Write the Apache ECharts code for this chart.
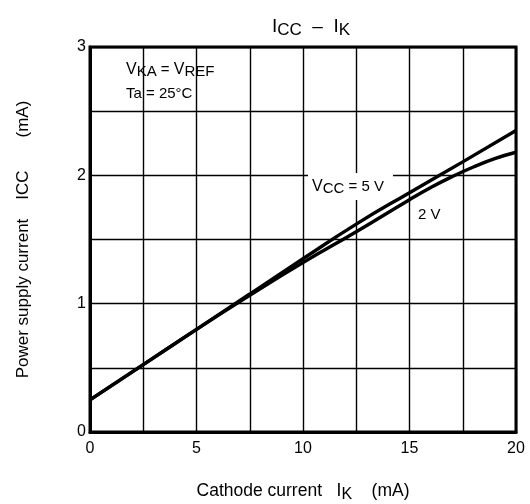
<!DOCTYPE html>
<html><head><meta charset="utf-8">
<script src="https://cdn.jsdelivr.net/npm/echarts@6/dist/echarts.min.js"></script>
<style>html,body{margin:0;padding:0;background:#fff}#c{width:530px;height:504px}</style>
</head><body><div id="c"></div>
<script>
const ikValues5V = [0, 2.5, 5, 7.5, 10, 12.5, 15, 17.5, 20];
const icc5V      = [0.25, 0.525, 0.80, 1.075, 1.35, 1.62, 1.865, 2.105, 2.35];
const ikValues2V = [0, 2.5, 5, 7.5, 10, 12.5, 15, 16, 17, 18, 19, 20];
const icc2V      = [0.25, 0.525, 0.80, 1.065, 1.32, 1.56, 1.81, 1.905, 1.99, 2.065, 2.13, 2.18];
const xTickLabels = ['0', '5', '10', '15', '20'];
const yTickLabels = ['0', '1', '2', '3'];

const font = 'Liberation Sans, Arial, sans-serif';
const chart = echarts.init(document.getElementById('c'));
const pairs = (xs, ys) => xs.map((x, i) => [x, ys[i]]);
chart.setOption({
  animation: false,
  backgroundColor: '#fff',
  title: {
    text: '{a|I}{s|CC}{a|  –  I}{s|K}',
    left: 306, top: 9, textAlign: 'center',
    textStyle: {
      fontWeight: 'normal',
      rich: {
        a: {fontSize: 19, fontFamily: font, color: '#000', fontWeight: 'normal'},
        s: {fontSize: 17, fontFamily: font, color: '#000', fontWeight: 'normal', padding: [8, 0, 0, 0]}
      }
    }
  },
  grid: {left: 90, right: 14, top: 47, bottom: 72, show: true, borderColor: '#000', borderWidth: 3,
         containLabel: false, outerBoundsMode: 'none'},
  xAxis: {
    type: 'value', min: 0, max: 20, interval: 2.5,
    axisLine: {show: true, lineStyle: {color: '#000', width: 3}},
    axisTick: {show: false},
    splitLine: {show: true, lineStyle: {color: '#000', width: 1.4}},
    axisLabel: {
      color: '#000', fontSize: 16, fontFamily: font, margin: 9,
      formatter: v => xTickLabels.includes(String(v)) ? String(v) : ''
    },
    name: '{a|Cathode current   I}{s|K}{a|    (mA)}',
    nameLocation: 'middle', nameGap: 48,
    nameTextStyle: {
      rich: {
        a: {fontSize: 17.5, fontFamily: font, color: '#000'},
        s: {fontSize: 16, fontFamily: font, color: '#000', padding: [7, 0, 0, 0]}
      }
    }
  },
  yAxis: {
    type: 'value', min: 0, max: 3, interval: 0.5,
    axisLine: {show: true, lineStyle: {color: '#000', width: 3}},
    axisTick: {show: false},
    splitLine: {show: true, lineStyle: {color: '#000', width: 1.4}},
    axisLabel: {
      color: '#000', fontSize: 16, fontFamily: font, margin: 4,
      formatter: v => yTickLabels.includes(String(v)) ? String(v) : ''
    },
    name: 'Power supply current    ICC       (mA)',
    nameLocation: 'middle', nameGap: 58,
    nameTextStyle: {fontSize: 17, fontFamily: font, color: '#000'}
  },
  series: [
    {type: 'line', name: '5 V', data: pairs(ikValues5V, icc5V), smooth: true, symbol: 'none', z: 5,
     lineStyle: {color: '#000', width: 3.4}},
    {type: 'line', name: '2 V', data: pairs(ikValues2V, icc2V), smooth: true, symbol: 'none', z: 5,
     lineStyle: {color: '#000', width: 3.4}}
  ],
  graphic: [
    {type: 'text', left: 126, top: 62, z: 6, style: {
      text: '{s|V}{t|KA}{a| = }{s|V}{t|REF}',
      rich: {
        a: {fontSize: 15, fontFamily: font, fill: '#000'},
        s: {fontSize: 16, fontFamily: font, fill: '#000'},
        t: {fontSize: 15, fontFamily: font, fill: '#000', padding: [4, 0, 0, 0]}
      }}},
    {type: 'text', left: 126, top: 86, z: 6, style: {text: 'Ta = 25°C', fontSize: 15, fontFamily: font, fill: '#000'}},
    {type: 'rect', z: 1, shape: {x: 308, y: 173, width: 85, height: 27}, style: {fill: '#fff'}},
    {type: 'text', left: 312, top: 179, z: 6, style: {
      text: '{s|V}{t|CC}{a| = 5 V}',
      rich: {
        a: {fontSize: 15, fontFamily: font, fill: '#000'},
        s: {fontSize: 16, fontFamily: font, fill: '#000'},
        t: {fontSize: 15, fontFamily: font, fill: '#000', padding: [4, 0, 0, 0]}
      }}},
    {type: 'text', left: 418, top: 207, z: 6, style: {text: '2 V', fontSize: 15, fontFamily: font, fill: '#000'}}
  ]
});
</script></body></html>
